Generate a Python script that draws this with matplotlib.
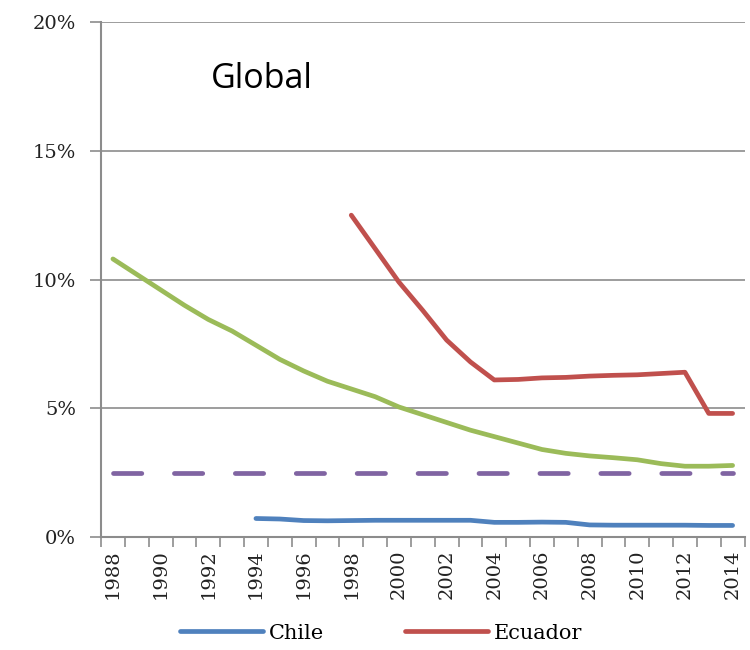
import numpy as np
import matplotlib
matplotlib.use("Agg")
import matplotlib.pyplot as plt
from matplotlib.ticker import FuncFormatter

# -----------------------------
# datos
# -----------------------------
anios = list(range(1988, 2015))

global_vals = [10.8, 10.2, 9.6, 9.0, 8.45, 8.0, 7.45, 6.9, 6.45, 6.05, 5.75, 5.45,
               5.05, 4.75, 4.45, 4.15, 3.9, 3.65, 3.4, 3.25, 3.15, 3.08, 3.0, 2.85,
               2.75, 2.75, 2.78]

anios_ecuador = list(range(1998, 2015))
ecuador = [12.5, 11.2, 9.9, 8.8, 7.65, 6.8, 6.1, 6.12, 6.18, 6.2, 6.25, 6.28,
           6.3, 6.35, 6.4, 4.8, 4.8]

anios_chile = list(range(1994, 2015))
chile = [0.72, 0.7, 0.64, 0.63, 0.64, 0.65, 0.65, 0.65, 0.65, 0.65, 0.57, 0.57,
         0.58, 0.57, 0.47, 0.46, 0.46, 0.46, 0.46, 0.45, 0.45]

meta = 2.5

y_ticks = [0, 5, 10, 15, 20]

# -----------------------------
# colores
# -----------------------------
c_verde = "#9BBB59"
c_rojo = "#C0504D"
c_azul = "#4F81BD"
c_morado = "#8064A2"
c_gris = "#8C8C8C"

fig = plt.figure(figsize=(7.5, 6.5), dpi=100)
ax = fig.add_axes([0.1347, 0.1738, 0.858, 0.7923])

lw = 3.4

ax.plot(anios, global_vals, color=c_verde, lw=lw, solid_capstyle="round",
        label="_nolegend_")
ax.plot(anios, [meta] * len(anios), color=c_morado, lw=lw,
        dashes=(6.0, 6.9), dash_capstyle="round", label="_nolegend_")
ax.plot(anios_ecuador, ecuador, color=c_rojo, lw=lw, solid_capstyle="round",
        label="Ecuador")
ax.plot(anios_chile, chile, color=c_azul, lw=lw, solid_capstyle="round",
        label="Chile")

# -----------------------------
# ejes
# -----------------------------
ax.set_xlim(1987.5, 2014.5)
ax.set_ylim(0, 20)

ax.set_yticks(y_ticks)
ax.yaxis.set_major_formatter(FuncFormatter(lambda v, p: f"{int(v)}%"))
ax.yaxis.grid(True, color=c_gris, lw=1.2)
ax.set_axisbelow(True)

ax.set_xticks(anios[::2])
ax.set_xticklabels([str(a) for a in anios[::2]], rotation=90)
ax.set_xticks(np.arange(1987.5, 2015, 1), minor=True)

ax.tick_params(axis="x", which="major", length=0, pad=9)
ax.tick_params(axis="x", which="minor", length=7, width=1.2, color=c_gris,
               direction="out")
ax.tick_params(axis="y", length=8, width=1.2, color=c_gris, pad=10)

for lab in ax.get_xticklabels() + ax.get_yticklabels():
    lab.set_fontfamily("DejaVu Serif")
    lab.set_fontsize(14)
    lab.set_color("#222222")

for s in ["top", "right"]:
    ax.spines[s].set_visible(False)
for s in ["left", "bottom"]:
    ax.spines[s].set_color(c_gris)
    ax.spines[s].set_linewidth(1.5)

ax.text(0.25, 0.89, "Global", transform=ax.transAxes, fontsize=24.5,
        family="Open Sans", ha="center", va="center")

# -----------------------------
# leyenda
# -----------------------------
h, l = ax.get_legend_handles_labels()
orden = [l.index("Chile"), l.index("Ecuador")]
fig.legend([h[i] for i in orden], [l[i] for i in orden],
           loc="center", bbox_to_anchor=(0.508, 0.026), ncol=2, frameon=False,
           prop={"family": "DejaVu Serif", "size": 15},
           handlelength=4, handletextpad=0.25, columnspacing=3.9)

plt.savefig("out.png", dpi=100)
